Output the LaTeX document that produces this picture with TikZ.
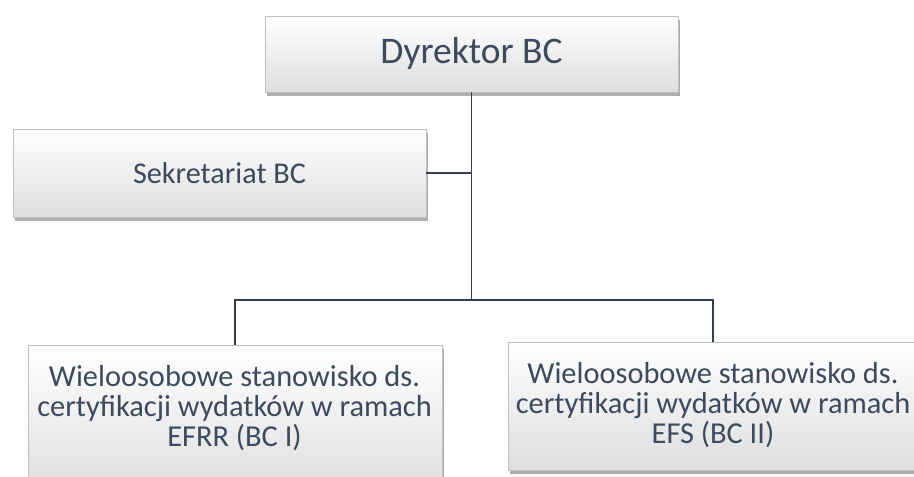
\documentclass[tikz,border=0pt]{standalone}
\usepackage{fontspec}
\setmainfont{Carlito}
\usetikzlibrary{shadows,calc}
\definecolor{txt}{RGB}{59,74,94}
\definecolor{edge}{RGB}{190,190,190}
\definecolor{wire}{RGB}{52,64,82}
\begin{document}
\begin{tikzpicture}[x=1pt,y=-1pt,
  unit/.style={rectangle, draw=edge, line width=0.8pt,
    top color=white, middle color=white, bottom color=black!13,
    text=txt, align=center, inner sep=0pt,
    drop shadow={shadow xshift=1.5pt, shadow yshift=-3.5pt, opacity=0.45, fill=black!70}},
  bodytext/.style={text=txt, align=center, inner sep=0pt, font=\fontsize{30.4}{30}\selectfont},
  wireline/.style={draw=wire, line width=1.8pt}]
\clip (0,0) rectangle (914,477);
\fill[white] (0,0) rectangle (914,477);

% boxes
\node[unit, minimum width=413pt, minimum height=76pt, font=\fontsize{37.5}{42}\selectfont]
  (dir) at (471.5,54) {Dyrektor BC};
\node[unit, minimum width=413pt, minimum height=88pt, font=\fontsize{30.2}{34}\selectfont]
  (sec) at (219.5,173) {Sekretariat BC};
\node[unit, minimum width=414pt, minimum height=150pt] (efrr) at (235,420) {};
\node[unit, minimum width=410pt, minimum height=128pt] (efs) at (713,406) {};

% box texts
\node[bodytext] (efrrt) at (234.5,408) {Wieloosobowe stanowisko ds.\\ certyfikacji wydatków w ramach\\ EFRR (BC I)};
\node[bodytext] (efst) at (713,405) {Wieloosobowe stanowisko ds.\\ certyfikacji wydatków w ramach\\ EFS (BC II)};

% connectors
\coordinate (j) at (471.5,300);
\draw[wireline] (dir.south) -- (j);
\draw[wireline] (sec.east) -- (sec.east -| j);
\draw[wireline] (efrr.north) |- (j) -| (efs.north);
\end{tikzpicture}
\end{document}
